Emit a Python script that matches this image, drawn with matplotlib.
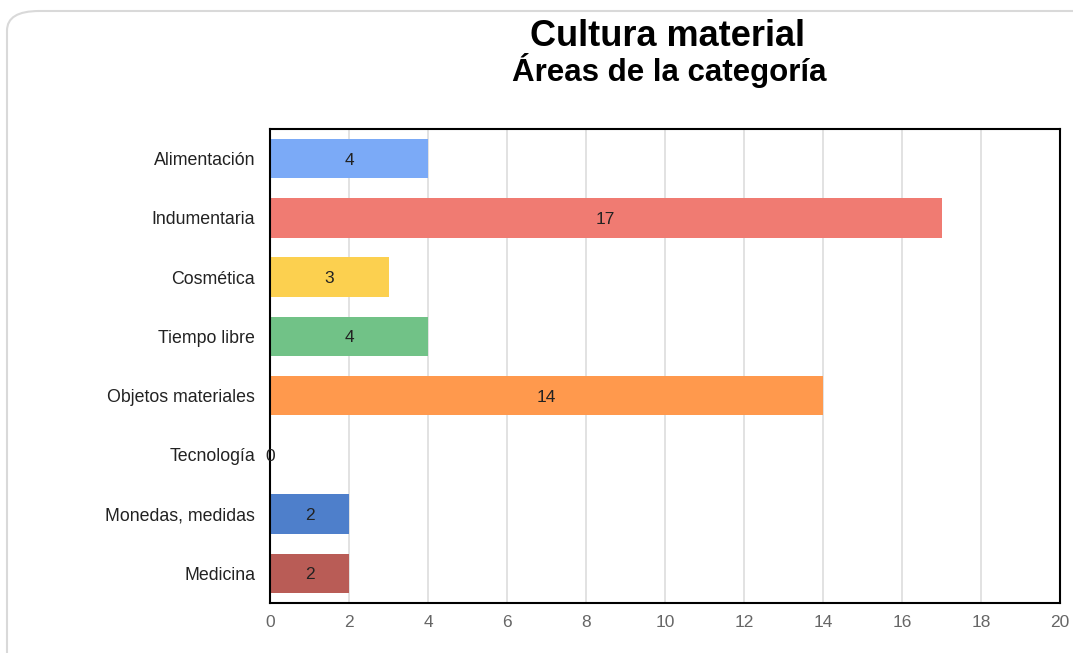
import matplotlib
matplotlib.use("Agg")
import matplotlib.pyplot as plt
from matplotlib.patches import FancyBboxPatch

categories = ["Alimentación", "Indumentaria", "Cosmética", "Tiempo libre",
              "Objetos materiales", "Tecnología", "Monedas, medidas", "Medicina"]
values = [4, 17, 3, 4, 14, 0, 2, 2]
colors = ["#7BAAF7", "#F07B72", "#FCD04F", "#71C287", "#FF994D", "#7BAAF7", "#4E7FCB", "#B95C56"]
xticks = [0, 2, 4, 6, 8, 10, 12, 14, 16, 18, 20]

plt.rcParams['font.family'] = ['Liberation Sans', 'DejaVu Sans']

W, H = 1073, 653
fig = plt.figure(figsize=(W/100, H/100), dpi=100)

# card border
card = FancyBboxPatch((7/W, -0.1), 1.2, 1.1 - 11/H,
                      boxstyle="round,pad=0,rounding_size=0.03",
                      transform=fig.transFigure, facecolor="white",
                      edgecolor="#D9D9D9", linewidth=1.5, zorder=-10)
fig.add_artist(card)

ax = fig.add_axes([270/W, 1 - 603/H, (1060-270)/W, (603-129)/H])
ax.set_zorder(5)
ax.set_facecolor("white")
ypos = list(range(len(categories)))
ax.barh(ypos, values, height=0.67, color=colors, zorder=2)
for y, v in zip(ypos, values):
    ax.text(v/2, y, str(v), ha="center", va="center_baseline", fontsize=12.5,
            color="#222222", zorder=3)

ax.set_ylim(len(categories) - 0.5, -0.5)
ax.set_xlim(0, 20)
ax.set_xticks(xticks)
ax.set_xticklabels([str(t) for t in xticks], fontsize=12.5, color="#666666")
ax.set_yticks(ypos)
ax.set_yticklabels(categories, fontsize=12.8, color="#222222")
ax.tick_params(length=0, pad=10.8, axis='y')
ax.tick_params(length=0, pad=8.5, axis='x')
ax.grid(axis="x", color="#DDDDDD", linewidth=1.2, zorder=0)
ax.set_axisbelow(True)
for s in ax.spines.values():
    s.set_color("black")
    s.set_linewidth(1.5)

fig.text(668/W, 1 - 37/H, "Cultura material", ha="center", va="center",
         fontsize=26, fontweight="bold", color="black", zorder=6)
fig.text(669/W, 1 - 71/H, "Áreas de la categoría", ha="center", va="center",
         fontsize=22.5, fontweight="bold", color="black", zorder=6)

fig.savefig("out.png", dpi=100)
